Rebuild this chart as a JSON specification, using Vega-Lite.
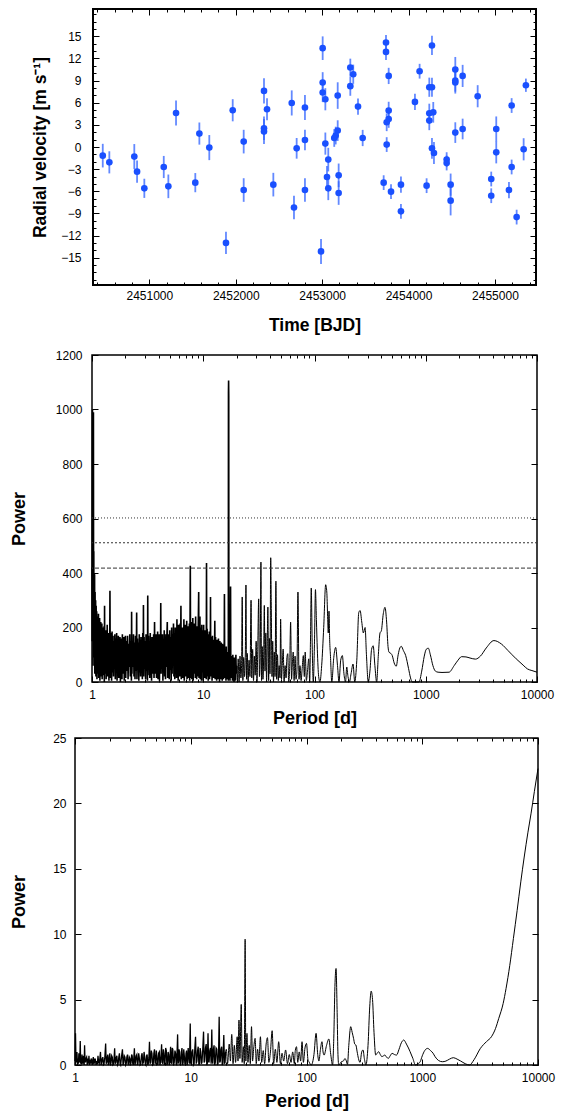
{
"$schema": "https://vega.github.io/schema/vega-lite/v6.json",
"padding": {"left": 2, "top": 7, "right": 0, "bottom": 0},
"background": "white",
"datasets": {
"rv": [
{"t":2450461,"v":-1.17,"e":1.6},{"t":2450537,"v":-2.08,"e":1.5},{"t":2450826,"v":-1.3,"e":1.7},{"t":2450858,"v":-3.34,"e":1.5},{"t":2450942,"v":-5.6,"e":1.3},{"t":2451167,"v":-2.71,"e":1.5},{"t":2451220,"v":-5.33,"e":1.6},{"t":2451309,"v":4.61,"e":1.7},{"t":2451532,"v":-4.83,"e":1.3},{"t":2451579,"v":1.82,"e":1.5},{"t":2451694,"v":-0.08,"e":1.7},{"t":2451887,"v":-13.0,"e":1.5},{"t":2451965,"v":4.98,"e":1.5},{"t":2452092,"v":0.73,"e":1.6},{"t":2452092,"v":-5.83,"e":1.6},{"t":2452327,"v":7.6,"e":1.7},{"t":2452362,"v":5.12,"e":1.5},{"t":2452327,"v":2.54,"e":1.6},{"t":2452327,"v":2.09,"e":1.7},{"t":2452435,"v":-5.1,"e":1.6},{"t":2452648,"v":5.97,"e":1.7},{"t":2452674,"v":-8.2,"e":1.6},{"t":2452705,"v":-0.18,"e":1.4},{"t":2452801,"v":5.35,"e":1.7},{"t":2452801,"v":0.95,"e":1.4},{"t":2452801,"v":-5.83,"e":1.6},
{"t":2452987,"v":-14.15,"e":1.7},{"t":2453006,"v":13.39,"e":1.6},{"t":2453006,"v":8.74,"e":1.4},{"t":2453006,"v":7.38,"e":1.3},{"t":2453037,"v":6.47,"e":1.5},{"t":2453037,"v":0.46,"e":1.5},{"t":2453071,"v":-1.71,"e":1.6},{"t":2453056,"v":-4.07,"e":1.5},{"t":2453071,"v":-5.6,"e":1.6},{"t":2453180,"v":6.97,"e":1.8},{"t":2453180,"v":2.22,"e":1.4},{"t":2453157,"v":1.55,"e":1.2},{"t":2453140,"v":1.22,"e":1.2},{"t":2453191,"v":-3.84,"e":1.6},{"t":2453191,"v":-6.24,"e":1.6},{"t":2453326,"v":10.77,"e":1.2},{"t":2453360,"v":9.86,"e":1.3},{"t":2453326,"v":8.24,"e":1.3},{"t":2453415,"v":5.48,"e":1.1},{"t":2453469,"v":1.22,"e":1.1},{"t":2453739,"v":14.16,"e":1.0},{"t":2453739,"v":12.89,"e":1.1},{"t":2453770,"v":9.63,"e":1.1},{"t":2453770,"v":4.93,"e":1.2},{"t":2453770,"v":3.8,"e":1.2},{"t":2453747,"v":3.35,"e":1.2},{"t":2453747,"v":0.33,"e":1.0},{"t":2453712,"v":-4.83,"e":1.0},{"t":2453797,"v":-6.05,"e":1.0},{"t":2453912,"v":-5.1,"e":1.1},{"t":2453912,"v":-8.72,"e":1.0},
{"t":2454074,"v":6.11,"e":1.1},{"t":2454128,"v":10.27,"e":1.0},{"t":2454209,"v":-5.24,"e":1.0},{"t":2454240,"v":8.1,"e":1.3},{"t":2454271,"v":8.1,"e":1.3},{"t":2454271,"v":13.76,"e":1.3},{"t":2454240,"v":4.57,"e":1.3},{"t":2454286,"v":4.7,"e":1.4},{"t":2454240,"v":3.58,"e":1.3},{"t":2454271,"v":-0.18,"e":1.4},{"t":2454294,"v":-0.81,"e":1.5},{"t":2454441,"v":-1.71,"e":1.0},{"t":2454441,"v":-2.17,"e":1.0},{"t":2454487,"v":-5.1,"e":1.5},{"t":2454487,"v":-7.27,"e":2.0},{"t":2454541,"v":10.5,"e":1.7},{"t":2454541,"v":9.0,"e":1.5},{"t":2454541,"v":8.74,"e":1.5},{"t":2454541,"v":1.95,"e":1.4},{"t":2454626,"v":9.63,"e":1.5},{"t":2454626,"v":2.44,"e":1.4},{"t":2454800,"v":6.88,"e":1.5},{"t":2454957,"v":-4.34,"e":1.0},{"t":2454957,"v":-6.6,"e":1.0},{"t":2455015,"v":2.44,"e":1.7},{"t":2455015,"v":-0.72,"e":1.5},{"t":2455162,"v":-5.83,"e":1.1},{"t":2455193,"v":5.62,"e":1.0},{"t":2455193,"v":-2.71,"e":1.0},{"t":2455251,"v":-9.5,"e":1.0},{"t":2455332,"v":-0.31,"e":1.5},{"t":2455358,"v":8.37,"e":0.9}
],
"pg1a": [
{"p":1.000,"w":420},{"p":1.004,"w":150},{"p":1.010,"w":1000},{"p":1.014,"w":200},{"p":1.018,"w":500},{"p":1.022,"w":60},{"p":1.026,"w":470},{"p":1.030,"w":990},{"p":1.034,"w":150},{"p":1.038,"w":480},{"p":1.042,"w":90},{"p":1.046,"w":400},{"p":1.050,"w":120},{"p":1.055,"w":395},{"p":1.060,"w":30},{"p":1.066,"w":330},{"p":1.072,"w":80},{"p":1.078,"w":300},{"p":1.084,"w":20},{"p":1.090,"w":280},{"p":1.096,"w":60},{"p":1.102,"w":260},{"p":1.108,"w":10},{"p":1.115,"w":240},{"p":1.122,"w":30},{"p":1.129,"w":230},{"p":1.136,"w":70},{"p":1.143,"w":250},{"p":1.150,"w":15},{"p":1.157,"w":210},{"p":1.164,"w":50},{"p":1.171,"w":235},{"p":1.178,"w":5},{"p":1.185,"w":200},{"p":1.192,"w":60},{"p":1.199,"w":220},{"p":1.206,"w":20},{"p":1.213,"w":190},{"p":1.220,"w":40},{"p":1.227,"w":215},{"p":1.234,"w":10},{"p":1.241,"w":180},{"p":1.248,"w":70},{"p":1.255,"w":200},{"p":1.262,"w":25},{"p":1.269,"w":175},{"p":1.276,"w":50},{"p":1.283,"w":205},{"p":1.290,"w":0},{"p":1.297,"w":280},{"p":1.304,"w":30},{"p":1.311,"w":170},
{"p":1.32,"w":60},{"p":1.33,"w":190},{"p":1.34,"w":10},{"p":1.35,"w":175},{"p":1.36,"w":45},{"p":1.37,"w":210},{"p":1.38,"w":20},{"p":1.39,"w":150},{"p":1.40,"w":55},{"p":1.41,"w":180},{"p":1.42,"w":5},{"p":1.43,"w":160},{"p":1.44,"w":40},{"p":1.45,"w":335},{"p":1.46,"w":15},{"p":1.47,"w":180},{"p":1.48,"w":50},{"p":1.49,"w":165},{"p":1.50,"w":5},{"p":1.515,"w":185},{"p":1.53,"w":35},{"p":1.545,"w":170},{"p":1.56,"w":20},{"p":1.575,"w":150},{"p":1.59,"w":60},{"p":1.605,"w":175},{"p":1.62,"w":10},{"p":1.635,"w":160},{"p":1.65,"w":40},{"p":1.665,"w":180},{"p":1.68,"w":5},{"p":1.695,"w":155},{"p":1.71,"w":55},{"p":1.725,"w":170},{"p":1.74,"w":15},{"p":1.755,"w":150},{"p":1.77,"w":45},{"p":1.785,"w":165},{"p":1.80,"w":0},{"p":1.815,"w":145},{"p":1.83,"w":50},{"p":1.845,"w":160},{"p":1.86,"w":10},{"p":1.875,"w":175},{"p":1.89,"w":30},{"p":1.905,"w":150},{"p":1.92,"w":60},{"p":1.935,"w":165},{"p":1.95,"w":5},{"p":1.965,"w":140},{"p":1.98,"w":45},{"p":1.995,"w":170},
{"p":2.01,"w":15},{"p":2.035,"w":150},{"p":2.06,"w":40},{"p":2.085,"w":170},{"p":2.11,"w":10},{"p":2.135,"w":140},{"p":2.16,"w":55},{"p":2.185,"w":175},{"p":2.21,"w":20},{"p":2.235,"w":150},{"p":2.26,"w":5},{"p":2.27,"w":258},{"p":2.285,"w":30},{"p":2.31,"w":140},{"p":2.335,"w":55},{"p":2.36,"w":175},{"p":2.385,"w":20},{"p":2.41,"w":145},{"p":2.435,"w":10},{"p":2.46,"w":170},{"p":2.485,"w":40},{"p":2.51,"w":150},{"p":2.52,"w":255},{"p":2.535,"w":10},{"p":2.56,"w":160},{"p":2.585,"w":45},{"p":2.61,"w":145},{"p":2.635,"w":5},{"p":2.66,"w":175},{"p":2.685,"w":35},{"p":2.71,"w":155},{"p":2.735,"w":20},{"p":2.76,"w":165},{"p":2.785,"w":50},{"p":2.81,"w":150},{"p":2.835,"w":10},{"p":2.86,"w":180},{"p":2.885,"w":30},{"p":2.90,"w":283},{"p":2.915,"w":20},{"p":2.94,"w":165},{"p":2.97,"w":50},{"p":3.00,"w":150},{"p":3.03,"w":10},{"p":3.06,"w":175},{"p":3.09,"w":40},{"p":3.12,"w":145},{"p":3.15,"w":5},{"p":3.17,"w":317},{"p":3.19,"w":25},{"p":3.22,"w":170},{"p":3.25,"w":55},{"p":3.28,"w":140},{"p":3.31,"w":15},{"p":3.34,"w":180},{"p":3.37,"w":40},{"p":3.40,"w":150},{"p":3.43,"w":5},{"p":3.46,"w":165},{"p":3.49,"w":30},{"p":3.52,"w":155},{"p":3.55,"w":60},{"p":3.58,"w":175},{"p":3.61,"w":15},{"p":3.65,"w":220},{"p":3.68,"w":30},{"p":3.71,"w":155},{"p":3.74,"w":60},{"p":3.77,"w":175},{"p":3.80,"w":15},{"p":3.83,"w":145},{"p":3.86,"w":45},{"p":3.89,"w":185},{"p":3.92,"w":10},{"p":3.95,"w":160},{"p":3.98,"w":50},{"p":4.01,"w":175},{"p":4.04,"w":5},{"p":4.08,"w":150},{"p":4.12,"w":40},{"p":4.15,"w":290},{"p":4.18,"w":30},{"p":4.22,"w":160},{"p":4.26,"w":50},{"p":4.30,"w":175},{"p":4.34,"w":5},{"p":4.38,"w":150},{"p":4.42,"w":40},{"p":4.46,"w":190},{"p":4.50,"w":20},{"p":4.54,"w":160},{"p":4.58,"w":10},{"p":4.62,"w":175},{"p":4.66,"w":55},{"p":4.70,"w":150},{"p":4.75,"w":220},{"p":4.79,"w":15},{"p":4.83,"w":175},{"p":4.87,"w":35},{"p":4.91,"w":160},{"p":4.95,"w":10},
{"p":5.00,"w":190},{"p":5.05,"w":45},{"p":5.10,"w":165},{"p":5.15,"w":5},{"p":5.20,"w":200},{"p":5.25,"w":30},{"p":5.30,"w":175},{"p":5.35,"w":60},{"p":5.40,"w":215},{"p":5.45,"w":20},{"p":5.50,"w":180},{"p":5.55,"w":10},{"p":5.60,"w":200},{"p":5.65,"w":45},{"p":5.70,"w":170},{"p":5.75,"w":15},{"p":5.80,"w":230},{"p":5.85,"w":55},{"p":5.90,"w":185},{"p":5.95,"w":5},{"p":6.00,"w":210},{"p":6.05,"w":35},{"p":6.10,"w":195},{"p":6.15,"w":20},{"p":6.20,"w":215},{"p":6.25,"w":60},{"p":6.30,"w":280},{"p":6.35,"w":10},{"p":6.40,"w":180},{"p":6.45,"w":45},{"p":6.50,"w":200},{"p":6.55,"w":15},{"p":6.60,"w":170},{"p":6.65,"w":55},{"p":6.70,"w":230},{"p":6.75,"w":5},{"p":6.80,"w":185},{"p":6.85,"w":35},{"p":6.90,"w":210},{"p":6.95,"w":20},{"p":7.00,"w":195},{"p":7.05,"w":50},{"p":7.10,"w":225},{"p":7.15,"w":10},{"p":7.20,"w":185},{"p":7.25,"w":40},{"p":7.30,"w":205},{"p":7.35,"w":15},{"p":7.40,"w":190},{"p":7.45,"w":55},{"p":7.50,"w":215},{"p":7.55,"w":5},{"p":7.60,"w":180},{"p":7.65,"w":427},{"p":7.70,"w":15},{"p":7.75,"w":195},{"p":7.80,"w":50},{"p":7.85,"w":220},{"p":7.90,"w":10},{"p":7.95,"w":180},{"p":8.00,"w":40},{"p":8.06,"w":235},{"p":8.12,"w":5},{"p":8.18,"w":200},{"p":8.24,"w":30},{"p":8.30,"w":215},{"p":8.36,"w":60},{"p":8.42,"w":190},{"p":8.48,"w":15},{"p":8.54,"w":240},{"p":8.60,"w":40},{"p":8.66,"w":195},{"p":8.72,"w":10},{"p":8.78,"w":205},{"p":8.84,"w":45},{"p":8.90,"w":185},{"p":8.96,"w":20},{"p":9.02,"w":210},{"p":9.10,"w":330},{"p":9.16,"w":15},{"p":9.22,"w":190},{"p":9.28,"w":40},{"p":9.34,"w":240},{"p":9.40,"w":10},{"p":9.46,"w":200},{"p":9.52,"w":45},{"p":9.58,"w":180},{"p":9.64,"w":5},{"p":9.70,"w":210},{"p":9.76,"w":35},{"p":9.82,"w":190},{"p":9.88,"w":60},{"p":9.94,"w":170},
{"p":10.00,"w":5},{"p":10.08,"w":210},{"p":10.16,"w":35},{"p":10.24,"w":180},{"p":10.32,"w":15},{"p":10.40,"w":190},{"p":10.48,"w":50},{"p":10.56,"w":175},{"p":10.64,"w":10},{"p":10.70,"w":437},{"p":10.76,"w":20},{"p":10.84,"w":195},{"p":10.92,"w":50},{"p":11.00,"w":175},{"p":11.08,"w":5},{"p":11.16,"w":160},{"p":11.24,"w":40},{"p":11.32,"w":185},{"p":11.40,"w":10},{"p":11.48,"w":165},{"p":11.56,"w":45},{"p":11.62,"w":312},{"p":11.68,"w":20},{"p":11.76,"w":165},{"p":11.84,"w":45},{"p":11.92,"w":150},{"p":12.00,"w":5},{"p":12.10,"w":170},{"p":12.20,"w":30},{"p":12.30,"w":155},{"p":12.40,"w":15},{"p":12.50,"w":140},{"p":12.60,"w":50},{"p":12.70,"w":225},{"p":12.80,"w":10},{"p":12.90,"w":165},{"p":13.00,"w":35},{"p":13.10,"w":140},{"p":13.20,"w":5},{"p":13.30,"w":155},{"p":13.40,"w":40},{"p":13.50,"w":130},{"p":13.60,"w":10},{"p":13.70,"w":160},{"p":13.80,"w":30},{"p":13.90,"w":135},{"p":14.00,"w":0},{"p":14.10,"w":150},{"p":14.20,"w":45},{"p":14.30,"w":125},{"p":14.40,"w":10},{"p":14.50,"w":145},{"p":14.60,"w":30},{"p":14.70,"w":120},{"p":14.80,"w":5},{"p":14.90,"w":140},{"p":15.00,"w":40},{"p":15.10,"w":115},{"p":15.20,"w":10},{"p":15.30,"w":135},{"p":15.40,"w":25},{"p":15.50,"w":323},{"p":15.60,"w":15},{"p":15.70,"w":120},{"p":15.80,"w":40},{"p":15.90,"w":105},{"p":16.00,"w":5},{"p":16.10,"w":130},{"p":16.20,"w":30},{"p":16.30,"w":95},{"p":16.40,"w":10},{"p":16.50,"w":110},{"p":16.60,"w":35},{"p":16.70,"w":85},{"p":16.80,"w":5},{"p":16.85,"w":1060},{"p":16.90,"w":1106},{"p":16.95,"w":1050},{"p":17.00,"w":10},{"p":17.10,"w":100},{"p":17.20,"w":30},{"p":17.30,"w":90},{"p":17.40,"w":5},{"p":17.60,"w":350},{"p":17.70,"w":15},{"p":17.85,"w":95},{"p":18.00,"w":30},{"p":18.15,"w":80},{"p":18.30,"w":5},{"p":18.45,"w":100},{"p":18.60,"w":20},{"p":18.75,"w":75},{"p":18.90,"w":0},{"p":19.05,"w":90},{"p":19.20,"w":25},{"p":19.35,"w":70},{"p":19.50,"w":5},{"p":19.65,"w":100},{"p":19.80,"w":30},{"p":20.00,"w":60}
],
"pg1b": [
{"p":20.00,"w":60},{"p":20.3,"w":5},{"p":20.6,"w":85},{"p":21.0,"w":0},{"p":21.4,"w":95},{"p":21.8,"w":15},{"p":22.1,"w":60},{"p":22.4,"w":312},{"p":22.7,"w":5},{"p":23.1,"w":90},{"p":23.5,"w":20},{"p":23.9,"w":110},{"p":24.2,"w":356},{"p":24.5,"w":10},{"p":24.9,"w":105},{"p":25.3,"w":0},{"p":25.8,"w":80},{"p":26.3,"w":20},{"p":26.9,"w":300},{"p":27.3,"w":15},{"p":27.8,"w":120},{"p":28.3,"w":5},{"p":28.8,"w":95},{"p":29.3,"w":25},{"p":29.9,"w":150},{"p":30.4,"w":0},{"p":30.9,"w":120},{"p":31.5,"w":305},{"p":32.0,"w":20},{"p":32.5,"w":90},{"p":33.0,"w":440},{"p":33.4,"w":5},{"p":33.9,"w":130},{"p":34.4,"w":10},{"p":34.9,"w":90},{"p":35.4,"w":281},{"p":35.9,"w":40},{"p":36.5,"w":180},{"p":37.1,"w":0},{"p":37.6,"w":140},{"p":38.1,"w":275},{"p":38.7,"w":5},{"p":39.3,"w":160},{"p":39.8,"w":30},{"p":40.4,"w":456},{"p":40.9,"w":269},{"p":41.5,"w":20},{"p":42.1,"w":150},{"p":42.8,"w":0},{"p":43.5,"w":110},{"p":44.2,"w":20},{"p":45.0,"w":370},{"p":45.7,"w":10},{"p":46.5,"w":100},{"p":47.3,"w":5},{"p":48.1,"w":60},{"p":49.0,"w":15},{"p":49.6,"w":231},{"p":50.5,"w":10},{"p":51.3,"w":60},{"p":52.3,"w":121},{"p":53.3,"w":0},{"p":54.4,"w":60},{"p":55.5,"w":15},{"p":56.5,"w":90},{"p":57.5,"w":104},{"p":58.6,"w":0},{"p":59.8,"w":50},{"p":61.0,"w":220},{"p":62.2,"w":10},{"p":63.3,"w":70},{"p":64.4,"w":110},{"p":65.6,"w":5},{"p":66.9,"w":95},{"p":68.2,"w":10},{"p":69.5,"w":40},{"p":71.0,"w":330},{"p":72.6,"w":10},{"p":74.0,"w":60},{"p":75.8,"w":5},{"p":77.5,"w":50},{"p":79.4,"w":97},{"p":81.0,"w":20},{"p":82.5,"w":110},{"p":84.5,"w":5},{"p":86.5,"w":40},{"p":88.8,"w":85},{"p":90.5,"w":0},{"p":92.0,"w":150},{"p":93.5,"w":345},{"p":95.5,"w":120},{"p":97.5,"w":0},
{"p":100,"w":150},{"p":102,"w":339},{"p":104,"w":229},{"p":106,"w":120},{"p":109,"w":20},{"p":112,"w":0},{"p":116,"w":60},{"p":121,"w":200},{"p":126,"w":357},{"p":129,"w":330},{"p":131,"w":250},{"p":133,"w":180},{"p":135,"w":260},{"p":137,"w":150},{"p":139,"w":100},{"p":143,"w":0},{"p":149,"w":90},{"p":155,"w":127},{"p":161,"w":60},{"p":166,"w":0},{"p":172,"w":80},{"p":178,"w":97},{"p":184,"w":30},{"p":190,"w":0},{"p":195,"w":55},{"p":200,"w":20},{"p":206,"w":0},{"p":213,"w":30},{"p":222,"w":66},{"p":230,"w":0},{"p":240,"w":80},{"p":250,"w":255},{"p":257,"w":262},{"p":266,"w":220},{"p":275,"w":180},{"p":285,"w":200},{"p":293,"w":100},{"p":304,"w":0},{"p":315,"w":40},{"p":326,"w":120},{"p":337,"w":133},{"p":349,"w":60},{"p":362,"w":0},{"p":375,"w":100},{"p":388,"w":180},{"p":399,"w":188},{"p":415,"w":250},{"p":430,"w":274},{"p":445,"w":220},{"p":458,"w":130},{"p":468,"w":109},{"p":485,"w":105},{"p":500,"w":97},{"p":520,"w":70},{"p":543,"w":58},{"p":565,"w":100},{"p":585,"w":125},{"p":603,"w":131},{"p":630,"w":115},{"p":660,"w":97},{"p":700,"w":50},{"p":730,"w":15},{"p":755,"w":0},{"p":810,"w":0},{"p":870,"w":0},{"p":920,"w":40},{"p":970,"w":95},{"p":1010,"w":120},{"p":1055,"w":124},{"p":1100,"w":100},{"p":1160,"w":60},{"p":1220,"w":40},{"p":1290,"w":36},{"p":1400,"w":35},{"p":1620,"w":36},{"p":1800,"w":60},{"p":1950,"w":80},{"p":2100,"w":93},{"p":2300,"w":92},{"p":2500,"w":88},{"p":2800,"w":84},{"p":3100,"w":95},{"p":3500,"w":125},{"p":4100,"w":152},{"p":4800,"w":139},{"p":5500,"w":115},{"p":6500,"w":85},{"p":7500,"w":62},{"p":8200,"w":48},{"p":9000,"w":42},{"p":10000,"w":36}
],
"fap": [{"level":602,"kind":"a"},{"level":511,"kind":"b"},{"level":418,"kind":"c"}],
"pg2a": [
{"p":1.00,"w":0.3},{"p":1.01,"w":2.42},{"p":1.02,"w":0.2},{"p":1.03,"w":0.6},{"p":1.04,"w":1.0},{"p":1.05,"w":0.0},{"p":1.06,"w":0.5},{"p":1.07,"w":0.1},{"p":1.08,"w":0.9},{"p":1.09,"w":0.2},{"p":1.10,"w":0.3},{"p":1.11,"w":1.83},{"p":1.12,"w":0.1},{"p":1.13,"w":0.5},{"p":1.14,"w":0.05},{"p":1.15,"w":0.8},{"p":1.16,"w":0.3},{"p":1.17,"w":0.1},{"p":1.18,"w":0.6},{"p":1.19,"w":0.7},{"p":1.20,"w":0.0},{"p":1.21,"w":1.5},{"p":1.22,"w":0.4},{"p":1.23,"w":0.2},{"p":1.245,"w":0.5},{"p":1.26,"w":0.6},{"p":1.275,"w":0.0},{"p":1.29,"w":0.5},{"p":1.305,"w":0.1},{"p":1.32,"w":0.7},{"p":1.335,"w":0.0},{"p":1.35,"w":0.4},{"p":1.365,"w":0.1},{"p":1.38,"w":0.5},{"p":1.395,"w":0.3},{"p":1.41,"w":0.0},{"p":1.425,"w":0.4},{"p":1.44,"w":0.6},{"p":1.455,"w":0.05},{"p":1.47,"w":0.2},{"p":1.485,"w":0.5},{"p":1.50,"w":0.4},{"p":1.52,"w":0.0},{"p":1.54,"w":0.3},{"p":1.56,"w":0.05},{"p":1.58,"w":0.7},{"p":1.60,"w":0.2},{"p":1.62,"w":0.1},{"p":1.64,"w":0.5},{"p":1.66,"w":1.0},{"p":1.68,"w":0.0},{"p":1.70,"w":0.2},{"p":1.72,"w":0.5},{"p":1.74,"w":0.6},{"p":1.76,"w":0.0},{"p":1.78,"w":0.05},{"p":1.81,"w":0.6},{"p":1.84,"w":1.65},{"p":1.86,"w":0.1},{"p":1.88,"w":0.2},{"p":1.90,"w":0.6},{"p":1.92,"w":0.8},{"p":1.94,"w":0.0},{"p":1.96,"w":0.1},{"p":1.98,"w":0.6},{"p":2.00,"w":0.9},{"p":2.025,"w":0.0},{"p":2.05,"w":0.2},{"p":2.075,"w":0.7},{"p":2.10,"w":0.6},{"p":2.125,"w":0.0},{"p":2.15,"w":0.05},{"p":2.175,"w":0.5},{"p":2.20,"w":1.27},{"p":2.225,"w":0.1},{"p":2.25,"w":0.2},{"p":2.275,"w":0.6},{"p":2.30,"w":0.7},{"p":2.33,"w":0.0},{"p":2.36,"w":0.1},{"p":2.39,"w":0.6},{"p":2.42,"w":0.9},{"p":2.45,"w":0.1},{"p":2.48,"w":0.0},{"p":2.52,"w":0.6},{"p":2.57,"w":1.2},{"p":2.60,"w":0.0},{"p":2.63,"w":0.2},{"p":2.665,"w":0.7},{"p":2.70,"w":0.6},{"p":2.735,"w":0.0},{"p":2.77,"w":0.1},{"p":2.805,"w":0.6},{"p":2.84,"w":0.8},{"p":2.875,"w":0.1},{"p":2.91,"w":0.05},{"p":2.945,"w":0.6},{"p":2.98,"w":0.5},{"p":3.015,"w":0.0},{"p":3.05,"w":0.2},{"p":3.085,"w":0.8},{"p":3.12,"w":0.7},{"p":3.155,"w":0.1},{"p":3.19,"w":0.0},{"p":3.225,"w":0.6},{"p":3.26,"w":1.27},{"p":3.295,"w":0.0},{"p":3.33,"w":0.2},{"p":3.375,"w":0.7},{"p":3.42,"w":0.8},{"p":3.46,"w":0.0},{"p":3.50,"w":0.1},{"p":3.55,"w":0.9},{"p":3.60,"w":0.5},{"p":3.65,"w":0.0},{"p":3.70,"w":0.05},{"p":3.75,"w":0.7},{"p":3.80,"w":0.9},{"p":3.85,"w":0.1},{"p":3.90,"w":0.2},{"p":3.95,"w":1.0},{"p":4.00,"w":0.6},{"p":4.05,"w":0.1},{"p":4.10,"w":0.0},{"p":4.15,"w":0.7},{"p":4.20,"w":0.8},{"p":4.25,"w":0.0},{"p":4.30,"w":0.1},{"p":4.35,"w":0.6},{"p":4.40,"w":1.78},{"p":4.45,"w":0.1},{"p":4.50,"w":0.2},{"p":4.56,"w":1.1},{"p":4.62,"w":0.9},{"p":4.68,"w":0.0},{"p":4.74,"w":0.05},{"p":4.80,"w":0.9},{"p":4.86,"w":1.2},{"p":4.92,"w":0.1},{"p":4.98,"w":0.2},{"p":5.04,"w":1.1},{"p":5.10,"w":0.7},{"p":5.16,"w":0.0},{"p":5.22,"w":0.1},{"p":5.28,"w":0.9},{"p":5.35,"w":1.0},{"p":5.41,"w":0.0},{"p":5.48,"w":0.2},{"p":5.54,"w":0.8},{"p":5.60,"w":1.58},{"p":5.66,"w":0.2},{"p":5.73,"w":0.1},{"p":5.80,"w":1.2},{"p":5.86,"w":0.9},{"p":5.93,"w":0.0},{"p":6.00,"w":0.3},{"p":6.07,"w":1.3},{"p":6.15,"w":1.1},{"p":6.22,"w":0.0},{"p":6.30,"w":0.1},{"p":6.37,"w":1.0},{"p":6.45,"w":0.8},{"p":6.52,"w":0.0},{"p":6.60,"w":0.2},{"p":6.65,"w":0.9},{"p":6.70,"w":1.4},{"p":6.77,"w":0.2},{"p":6.85,"w":0.1},{"p":6.92,"w":1.3},{"p":7.00,"w":1.2},{"p":7.10,"w":0.0},{"p":7.20,"w":0.2},{"p":7.30,"w":1.1},{"p":7.40,"w":0.9},{"p":7.48,"w":0.1},{"p":7.55,"w":0.05},{"p":7.62,"w":1.0},{"p":7.70,"w":2.34},{"p":7.78,"w":0.1},{"p":7.85,"w":0.3},{"p":7.92,"w":1.2},{"p":8.00,"w":1.0},{"p":8.10,"w":0.0},{"p":8.20,"w":0.1},{"p":8.30,"w":1.0},{"p":8.40,"w":1.3},{"p":8.50,"w":0.0},{"p":8.60,"w":0.2},{"p":8.70,"w":1.2},{"p":8.80,"w":0.7},{"p":8.90,"w":0.1},{"p":9.00,"w":0.05},{"p":9.10,"w":0.9},{"p":9.20,"w":1.1},{"p":9.30,"w":0.0},{"p":9.40,"w":0.2},{"p":9.50,"w":1.3},{"p":9.60,"w":0.8},{"p":9.75,"w":0.1},{"p":9.90,"w":3.18},{"p":10.0,"w":0.1},{"p":10.1,"w":0.2},{"p":10.25,"w":1.0},{"p":10.4,"w":1.2},{"p":10.55,"w":0.0},{"p":10.7,"w":0.1},{"p":10.85,"w":1.3},{"p":11.0,"w":2.16},{"p":11.15,"w":0.1},{"p":11.3,"w":0.3},{"p":11.45,"w":1.1},{"p":11.6,"w":1.4},{"p":11.75,"w":0.0},{"p":11.9,"w":0.1},{"p":12.05,"w":1.3},{"p":12.2,"w":1.0},{"p":12.35,"w":0.1},{"p":12.5,"w":0.2},{"p":12.7,"w":1.2},{"p":12.9,"w":2.55},{"p":13.05,"w":0.2},{"p":13.2,"w":0.3},{"p":13.4,"w":1.3},{"p":13.6,"w":1.6},{"p":13.75,"w":0.0},{"p":13.9,"w":0.1},{"p":14.1,"w":2.42},{"p":14.25,"w":0.3},{"p":14.4,"w":0.2},{"p":14.6,"w":1.1},{"p":14.8,"w":1.3},{"p":15.0,"w":0.1},{"p":15.2,"w":2.72},{"p":15.35,"w":0.4},{"p":15.5,"w":0.1},{"p":15.7,"w":1.2},{"p":15.9,"w":1.5},{"p":16.1,"w":0.0},{"p":16.3,"w":0.2},{"p":16.55,"w":1.3},{"p":16.8,"w":1.2},{"p":17.0,"w":0.0},{"p":17.2,"w":0.1},{"p":17.4,"w":1.0},{"p":17.6,"w":3.69},{"p":17.8,"w":0.2},{"p":18.0,"w":0.3},{"p":18.25,"w":1.2},{"p":18.5,"w":1.4},{"p":18.7,"w":0.0},{"p":18.9,"w":0.1},{"p":19.1,"w":1.1},{"p":19.3,"w":2.3},{"p":19.55,"w":0.1},{"p":19.8,"w":0.2},{"p":20.0,"w":1.0}
],
"pg2b": [
{"p":20.0,"w":1.0},{"p":20.3,"w":1.2},{"p":20.8,"w":0.1},{"p":21.5,"w":1.6},{"p":22.0,"w":0.3},{"p":22.6,"w":2.34},{"p":23.2,"w":0.1},{"p":23.8,"w":1.5},{"p":24.4,"w":0.2},{"p":25.2,"w":2.16},{"p":25.6,"w":0.3},{"p":26.1,"w":3.44},{"p":26.6,"w":0.5},{"p":27.3,"w":4.63},{"p":27.8,"w":0.2},{"p":28.5,"w":1.4},{"p":29.0,"w":0.1},{"p":29.5,"w":9.62},{"p":29.9,"w":0.3},{"p":30.6,"w":2.42},{"p":31.2,"w":0.2},{"p":32.0,"w":1.5},{"p":32.7,"w":0.1},{"p":33.5,"w":2.93},{"p":34.2,"w":0.3},{"p":35.0,"w":1.3},{"p":36.0,"w":2.04},{"p":36.8,"w":0.1},{"p":37.8,"w":1.2},{"p":38.8,"w":0.3},{"p":40.0,"w":2.16},{"p":41.0,"w":0.2},{"p":42.3,"w":1.1},{"p":43.5,"w":0.1},{"p":44.8,"w":1.6},{"p":46.0,"w":2.09},{"p":47.3,"w":0.2},{"p":48.8,"w":1.0},{"p":50.5,"w":2.62},{"p":52.0,"w":0.1},{"p":53.8,"w":1.2},{"p":55.5,"w":0.2},{"p":57.5,"w":1.78},{"p":59.5,"w":0.1},{"p":61.5,"w":0.9},{"p":63.5,"w":0.3},{"p":66.0,"w":1.15},{"p":68.5,"w":0.1},{"p":71.0,"w":0.8},{"p":73.5,"w":0.2},{"p":76.0,"w":1.0},{"p":78.5,"w":0.1},{"p":80.0,"w":1.1},{"p":82.0,"w":1.4},{"p":84.0,"w":0.2},{"p":86.5,"w":1.0},{"p":89.0,"w":0.3},{"p":91.5,"w":1.78},{"p":94.0,"w":0.2},{"p":97.0,"w":1.3},
{"p":100,"w":1.65},{"p":103,"w":0.4},{"p":105,"w":0.25},{"p":110,"w":0.0},{"p":116,"w":0.8},{"p":121,"w":2.42},{"p":125,"w":0.8},{"p":128,"w":0.3},{"p":132,"w":1.2},{"p":136,"w":1.78},{"p":139,"w":1.0},{"p":142,"w":0.76},{"p":149,"w":1.5},{"p":156,"w":1.99},{"p":162,"w":0.8},{"p":168,"w":0.0},{"p":172,"w":2.0},{"p":176,"w":6.0},{"p":180,"w":7.38},{"p":184,"w":4.0},{"p":187,"w":0.8},{"p":190,"w":0.0},{"p":200,"w":0.25},{"p":208,"w":0.3},{"p":215,"w":0.5},{"p":221,"w":0.3},{"p":226,"w":0.05},{"p":232,"w":1.5},{"p":241,"w":2.93},{"p":248,"w":2.5},{"p":255,"w":2.04},{"p":261,"w":1.6},{"p":267,"w":1.53},{"p":274,"w":1.0},{"p":281,"w":0.5},{"p":290,"w":0.2},{"p":300,"w":1.0},{"p":308,"w":1.15},{"p":316,"w":0.5},{"p":326,"w":0.0},{"p":340,"w":1.5},{"p":352,"w":4.5},{"p":362,"w":5.65},{"p":372,"w":5.0},{"p":383,"w":2.5},{"p":396,"w":0.76},{"p":408,"w":0.9},{"p":420,"w":1.02},{"p":434,"w":0.8},{"p":448,"w":0.64},{"p":462,"w":0.7},{"p":475,"w":0.76},{"p":492,"w":0.6},{"p":509,"w":0.5},{"p":528,"w":0.7},{"p":549,"w":0.89},{"p":575,"w":0.8},{"p":600,"w":0.76},{"p":630,"w":1.2},{"p":660,"w":1.7},{"p":692,"w":1.91},{"p":730,"w":1.6},{"p":760,"w":1.3},{"p":785,"w":1.02},{"p":830,"w":0.5},{"p":873,"w":0.0},{"p":920,"w":0.1},{"p":960,"w":0.25},{"p":1000,"w":0.7},{"p":1050,"w":1.1},{"p":1110,"w":1.27},{"p":1180,"w":1.1},{"p":1240,"w":0.9},{"p":1290,"w":0.64},{"p":1380,"w":0.35},{"p":1490,"w":0.25},{"p":1600,"w":0.3},{"p":1720,"w":0.45},{"p":1855,"w":0.56},{"p":2000,"w":0.45},{"p":2150,"w":0.3},{"p":2350,"w":0.1},{"p":2560,"w":0.0},{"p":2800,"w":0.4},{"p":3180,"w":1.27},{"p":3600,"w":1.8},{"p":3960,"w":2.16},{"p":4300,"w":2.8},{"p":4580,"w":3.56},{"p":5000,"w":4.7},{"p":5300,"w":5.86},{"p":5700,"w":7.6},{"p":6130,"w":9.67},{"p":6600,"w":11.8},{"p":7100,"w":14.0},{"p":7600,"w":15.9},{"p":8190,"w":17.8},{"p":8700,"w":19.2},{"p":9300,"w":20.9},{"p":10000,"w":22.66}
]
},
"columns": 1,
"spacing": 13,
"align": "none",
"bounds": "full",
"concat": [
{
"spacing": 0,
"bounds": "full",
"hconcat": [
{"width": 25, "height": 10, "view": {"stroke": null}, "data": {"values": [{}]}, "mark": {"type": "point", "opacity": 0}},
{
"width": 443, "height": 276,
"view": {"stroke": "black", "strokeWidth": 2},
"data": {"name": "rv"},
"layer": [
{"mark": {"type": "errorbar", "color": "#2f62ff", "opacity": 0.75, "thickness": 1.8, "ticks": false},
 "encoding": {
  "x": {"field": "t", "type": "quantitative", "scale": {"domain": [2450348, 2455475], "nice": false, "zero": false},
        "axis": {"orient": "top", "values": [2450400,2450600,2450800,2451000,2451200,2451400,2451600,2451800,2452000,2452200,2452400,2452600,2452800,2453000,2453200,2453400,2453600,2453800,2454000,2454200,2454400,2454600,2454800,2455000,2455200,2455400], "labels": false, "title": null,
                 "tickSize": {"condition": {"test": "datum.value % 1000 != 0", "value": -3}, "value": -6}}},
  "y": {"field": "v", "type": "quantitative", "scale": {"domain": [-18.7, 18.7], "nice": false, "zero": false},
        "axis": {"orient": "right", "values": [-18,-17,-16,-15,-14,-13,-12,-11,-10,-9,-8,-7,-6,-5,-4,-3,-2,-1,0,1,2,3,4,5,6,7,8,9,10,11,12,13,14,15,16,17,18], "labels": false, "title": null,
                 "tickSize": {"condition": {"test": "datum.value % 3 != 0 || abs(datum.value) > 15", "value": -3}, "value": -6}}},
  "yError": {"field": "e"}
 }},
{"mark": {"type": "circle", "size": 44, "color": "#1a50ff", "opacity": 1},
 "encoding": {
  "x": {"field": "t", "type": "quantitative",
        "axis": {"orient": "bottom", "values": [2450400,2450600,2450800,2451000,2451200,2451400,2451600,2451800,2452000,2452200,2452400,2452600,2452800,2453000,2453200,2453400,2453600,2453800,2454000,2454200,2454400,2454600,2454800,2455000,2455200,2455400],
                 "format": "d", "labelExpr": "datum.value % 1000 == 0 ? datum.label : ''",
                 "tickSize": {"condition": {"test": "datum.value % 1000 != 0", "value": -3}, "value": -6},
                 "labelPadding": 11, "title": "Time [BJD]", "titlePadding": 12, "titleFontSize": 17.5}},
  "y": {"field": "v", "type": "quantitative",
        "axis": {"orient": "left", "values": [-18,-17,-16,-15,-14,-13,-12,-11,-10,-9,-8,-7,-6,-5,-4,-3,-2,-1,0,1,2,3,4,5,6,7,8,9,10,11,12,13,14,15,16,17,18],
                 "labelExpr": "(datum.value % 3 == 0 && abs(datum.value) <= 15) ? datum.label : ''",
                 "tickSize": {"condition": {"test": "datum.value % 3 != 0 || abs(datum.value) > 15", "value": -3}, "value": -6},
                 "labelPadding": 18, "title": "Radial velocity [m s⁻¹]", "titlePadding": 11, "titleFontSize": 17.5}}
 }}
],
"resolve": {"axis": {"x": "independent", "y": "independent"}}
}
]
},
{
"columns": 1,
"spacing": 3,
"align": "none",
"bounds": "full",
"concat": [
{
"spacing": 0,
"bounds": "full",
"hconcat": [
{"width": 1, "height": 10, "view": {"stroke": null}, "data": {"values": [{}]}, "mark": {"type": "point", "opacity": 0}},
{
"width": 445, "height": 327,
"view": {"stroke": "black", "strokeWidth": 1.5},
"layer": [
{"data": {"name": "pg1a"},
 "mark": {"type": "line", "color": "black", "strokeWidth": 1.6},
 "encoding": {
  "x": {"field": "p", "type": "quantitative", "scale": {"type": "log", "domain": [1, 10000], "nice": false},
        "axis": {"orient": "bottom", "values": [1,2,3,4,5,6,7,8,9,10,20,30,40,50,60,70,80,90,100,200,300,400,500,600,700,800,900,1000,2000,3000,4000,5000,6000,7000,8000,9000,10000],
                 "format": "d", "labelExpr": "indexof([1,10,100,1000,10000], datum.value) >= 0 ? datum.label : ''",
                 "tickSize": {"condition": {"test": "indexof([1,10,100,1000,10000], datum.value) < 0", "value": -3}, "value": -6},
                 "labelPadding": 13, "title": "Period [d]", "titlePadding": 6}},
  "y": {"field": "w", "type": "quantitative", "scale": {"domain": [0, 1200], "nice": false},
        "axis": {"orient": "left", "values": [0,200,400,600,800,1000,1200], "format": "d", "tickSize": -6, "labelPadding": 16, "title": "Power", "titlePadding": 27}}
 }},
{"data": {"name": "pg1b"},
 "mark": {"type": "line", "color": "black", "strokeWidth": 1, "interpolate": "monotone"},
 "encoding": {
  "x": {"field": "p", "type": "quantitative",
        "axis": {"orient": "top", "values": [1,2,3,4,5,6,7,8,9,10,20,30,40,50,60,70,80,90,100,200,300,400,500,600,700,800,900,1000,2000,3000,4000,5000,6000,7000,8000,9000,10000],
                 "labels": false, "title": null,
                 "tickSize": {"condition": {"test": "indexof([1,10,100,1000,10000], datum.value) < 0", "value": -3}, "value": -6}}},
  "y": {"field": "w", "type": "quantitative",
        "axis": {"orient": "right", "values": [0,200,400,600,800,1000,1200], "tickSize": -6, "labels": false, "title": null}}
 }},
{"data": {"name": "fap"},
 "mark": {"type": "rule", "color": "#333333", "strokeWidth": 1},
 "encoding": {
  "y": {"field": "level", "type": "quantitative", "axis": null},
  "strokeDash": {"field": "kind", "type": "nominal", "scale": {"domain": ["a","b","c"], "range": [[1,2],[2,2],[4,2]]}, "legend": null}
 }}
],
"resolve": {"axis": {"x": "independent", "y": "independent"}}
}
]
},
{
"spacing": 0,
"bounds": "full",
"hconcat": [
{"width": 1, "height": 10, "view": {"stroke": null}, "data": {"values": [{}]}, "mark": {"type": "point", "opacity": 0}},
{
"width": 463, "height": 327,
"view": {"stroke": "black", "strokeWidth": 1.5},
"layer": [
{"data": {"name": "pg2a"},
 "mark": {"type": "line", "color": "black", "strokeWidth": 1.3},
 "encoding": {
  "x": {"field": "p", "type": "quantitative", "scale": {"type": "log", "domain": [1, 10000], "nice": false},
        "axis": {"orient": "bottom", "values": [1,2,3,4,5,6,7,8,9,10,20,30,40,50,60,70,80,90,100,200,300,400,500,600,700,800,900,1000,2000,3000,4000,5000,6000,7000,8000,9000,10000],
                 "format": "d", "labelExpr": "indexof([1,10,100,1000,10000], datum.value) >= 0 ? datum.label : ''",
                 "tickSize": {"condition": {"test": "indexof([1,10,100,1000,10000], datum.value) < 0", "value": -3}, "value": -6},
                 "labelPadding": 13, "title": "Period [d]", "titlePadding": 6}},
  "y": {"field": "w", "type": "quantitative", "scale": {"domain": [0, 25], "nice": false},
        "axis": {"orient": "left", "values": [0,5,10,15,20,25], "tickSize": -6, "labelPadding": 15, "title": "Power", "titlePadding": 24}}
 }},
{"data": {"name": "pg2b"},
 "mark": {"type": "line", "color": "black", "strokeWidth": 1, "interpolate": "monotone"},
 "encoding": {
  "x": {"field": "p", "type": "quantitative",
        "axis": {"orient": "top", "values": [1,2,3,4,5,6,7,8,9,10,20,30,40,50,60,70,80,90,100,200,300,400,500,600,700,800,900,1000,2000,3000,4000,5000,6000,7000,8000,9000,10000],
                 "labels": false, "title": null,
                 "tickSize": {"condition": {"test": "indexof([1,10,100,1000,10000], datum.value) < 0", "value": -3}, "value": -6}}},
  "y": {"field": "w", "type": "quantitative",
        "axis": {"orient": "right", "values": [0,5,10,15,20,25], "tickSize": -6, "labels": false, "title": null}}
 }}
],
"resolve": {"axis": {"x": "independent", "y": "independent"}}
}
]
}
]
}
],
"config": {
 "font": "Liberation Sans",
 "axis": {"domain": false, "grid": false, "labelFont": "Liberation Sans", "labelFontSize": 12, "labelColor": "black",
          "titleFont": "Liberation Sans", "titleFontSize": 18, "titleFontWeight": "bold", "titleColor": "black",
          "tickColor": "black", "tickWidth": 1, "labelFlush": false, "labelOverlap": false}
}
}
